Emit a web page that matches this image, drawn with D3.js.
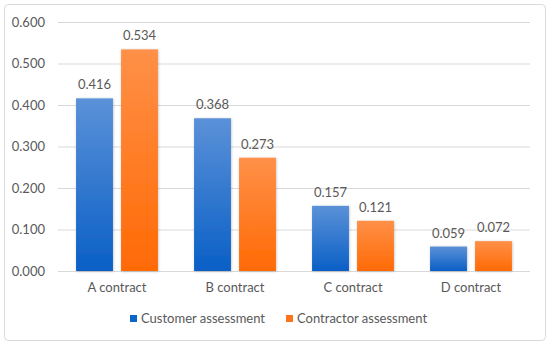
<!DOCTYPE html>
<html><head><meta charset="utf-8">
<script src="https://cdn.jsdelivr.net/npm/d3@7"></script>
<style>body{margin:0;background:#fff}svg{display:block}</style>
</head><body>
<script>
const categories = ["A contract","B contract","C contract","D contract"];
const seriesNames = ["Customer assessment","Contractor assessment"];
const customer = [0.416,0.368,0.157,0.059];
const contractor = [0.534,0.273,0.121,0.072];
const yTicks = [0,0.1,0.2,0.3,0.4,0.5,0.6];

const W=550,H=346;
const svg=d3.select("body").append("svg").attr("width",W).attr("height",H);
const defs=svg.append("defs");
const grads=[["gb","#5b91d8","#0a5fc6"],["go","#ff9048","#ff6a05"]];
grads.forEach(([id,c1,c2])=>{
  const g=defs.append("linearGradient").attr("id",id).attr("x1",0).attr("y1",0).attr("x2",0).attr("y2",1);
  g.append("stop").attr("offset","0%").attr("stop-color",c1);
  g.append("stop").attr("offset","100%").attr("stop-color",c2);
});
const f=defs.append("filter").attr("id","sh").attr("x","-20%").attr("y","-20%").attr("width","140%").attr("height","140%");
f.append("feDropShadow").attr("dx",0.5).attr("dy",0.5).attr("stdDeviation",1).attr("flood-color","#000").attr("flood-opacity",0.25);

svg.append("rect").attr("x",4.5).attr("y",4.5).attr("width",541).attr("height",336).attr("rx",4)
  .attr("fill","#fff").attr("stroke","#d9d9d9");

const font="Lato, 'Open Sans', sans-serif";
const x0=d3.scaleBand().domain(categories).range([58,530]).paddingInner(0).paddingOuter(0);
const bw0=x0.bandwidth();
const x1=d3.scaleBand().domain(seriesNames).range([bw0*0.153,bw0*0.847]).paddingInner(0.18).paddingOuter(0);
const y=d3.scaleLinear().domain([0,0.6]).range([271,22]);

const gy=svg.append("g").attr("transform","translate(58,0)")
  .call(d3.axisLeft(y).tickValues(yTicks).tickFormat(d3.format(".3f")).tickSize(-472).tickPadding(13));
gy.select(".domain").remove();
gy.selectAll(".tick line").attr("stroke","#d9d9d9");
gy.selectAll(".tick text").attr("fill","#595959").style("font-family",font).style("font-size","13px");

const gx=svg.append("g").attr("transform","translate(0,271)")
  .call(d3.axisBottom(x0).tickSize(0).tickPadding(12));
gx.select(".domain").remove();
gx.selectAll(".tick text").attr("fill","#595959").style("font-family",font).style("font-size","13px");

const data=[customer,contractor];
const fills=["url(#gb)","url(#go)"];
seriesNames.forEach((s,si)=>{
  const g=svg.append("g");
  g.selectAll("rect").data(categories).join("rect")
    .attr("x",c=>x0(c)+x1(s)).attr("width",x1.bandwidth())
    .attr("y",(c,i)=>y(data[si][i])).attr("height",(c,i)=>y(0)-y(data[si][i]))
    .attr("fill",fills[si]).attr("filter","url(#sh)");
  g.selectAll("text").data(categories).join("text")
    .attr("x",c=>x0(c)+x1(s)+x1.bandwidth()/2)
    .attr("y",(c,i)=>y(data[si][i])-9)
    .attr("text-anchor","middle").attr("fill","#595959")
    .style("font-family",font).style("font-size","13px")
    .text((c,i)=>d3.format(".3f")(data[si][i]));
});

const legX=[130,286];
const legCol=["#0a66cc","#ff7418"];
seriesNames.forEach((s,i)=>{
  svg.append("rect").attr("x",legX[i]).attr("y",315).attr("width",7).attr("height",7).attr("fill",legCol[i]);
  svg.append("text").attr("x",legX[i]+11).attr("y",323).attr("fill","#595959")
    .style("font-family",font).style("font-size","13px").text(s);
});
</script>
</body></html>
